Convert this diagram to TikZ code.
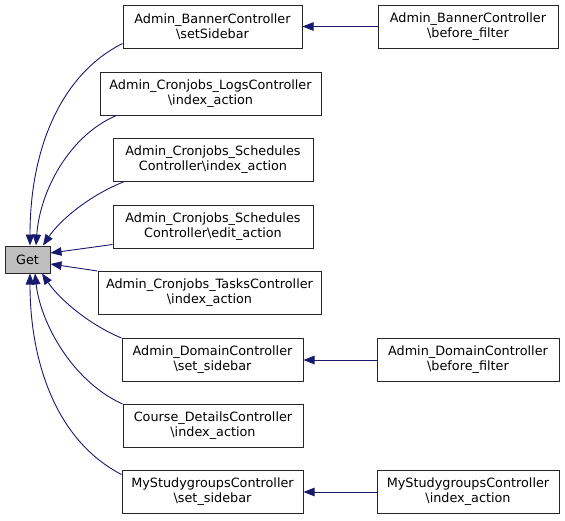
\documentclass[tikz,border=0pt]{standalone}
\usepackage{fontspec}
\setmainfont{DejaVu Sans}
\usetikzlibrary{arrows.meta}
\definecolor{edgec}{HTML}{191970}
\definecolor{getfill}{HTML}{BFBFBF}
\begin{document}
\begin{tikzpicture}[x=1pt,y=-1pt,
  box/.style={draw=black!85, line width=1pt, inner sep=0pt, minimum height=43pt, align=center,
    font=\fontsize{12.8}{15}\selectfont, text=black, fill=white},
  edge/.style={draw=edgec, line width=0.9pt, -{Triangle[length=11pt,width=8.5pt,fill=edgec]}}]
\useasboundingbox (0,0) rectangle (565,520);
\node[box, fill=getfill, minimum width=45pt, minimum height=27pt] (get) at (27.5,259.5) {Get};
\node[box, minimum width=179pt] (sb1) at (212.5,26.5) {Admin\_BannerController\\\textbackslash setSidebar};
\node[box, minimum width=180pt] (bf1) at (468,26.5) {Admin\_BannerController\\\textbackslash before\_filter};
\node[box, minimum width=221pt] (logs) at (210.5,93.5) {Admin\_Cronjobs\_LogsController\\\textbackslash index\_action};
\node[box, minimum width=200pt] (schidx) at (213,159.5) {Admin\_Cronjobs\_Schedules\\Controller\textbackslash index\_action};
\node[box, minimum width=200pt] (schedit) at (213,226.5) {Admin\_Cronjobs\_Schedules\\Controller\textbackslash edit\_action};
\node[box, minimum width=223pt] (tasks) at (209.5,293) {Admin\_Cronjobs\_TasksController\\\textbackslash index\_action};
\node[box, minimum width=181pt] (dom) at (212.5,360) {Admin\_DomainController\\\textbackslash set\_sidebar};
\node[box, minimum width=182pt] (dombf) at (468,360) {Admin\_DomainController\\\textbackslash before\_filter};
\node[box, minimum width=180pt] (course) at (213,426) {Course\_DetailsController\\\textbackslash index\_action};
\node[box, minimum width=181pt] (my) at (212.5,492) {MyStudygroupsController\\\textbackslash set\_sidebar};
\node[box, minimum width=182pt] (myidx) at (468,492) {MyStudygroupsController\\\textbackslash index\_action};

\draw[edge] ([yshift=5pt]sb1.south west) .. controls (60,75) and (30,150) .. ([xshift=2.5pt]get.north);
\draw[edge] ([xshift=17pt]logs.south west) .. controls (70,135) and (40,190) .. ([xshift=8.5pt]get.north);
\draw[edge] ([xshift=12pt]schidx.south west) .. controls (90,195) and (60,220) .. ([xshift=15.5pt]get.north);
\draw[edge] ([yshift=4pt]schedit.south west) -- ([yshift=6.5pt]get.east);
\draw[edge] (tasks.north west) -- ([yshift=-4.5pt]get.east);
\draw[edge] (dom.north west) .. controls (90,325) and (60,300) .. ([xshift=14.5pt]get.south);
\draw[edge] (course.north west) .. controls (70,380) and (40,320) .. ([xshift=7.5pt]get.south);
\draw[edge] ([yshift=-4.5pt]my.north west) .. controls (55,440) and (30,360) .. ([xshift=2.5pt]get.south);
\draw[edge] (bf1.west) -- (sb1.east);
\draw[edge] (dombf.west) -- (dom.east);
\draw[edge] (myidx.west) -- (my.east);
\end{tikzpicture}
\end{document}
